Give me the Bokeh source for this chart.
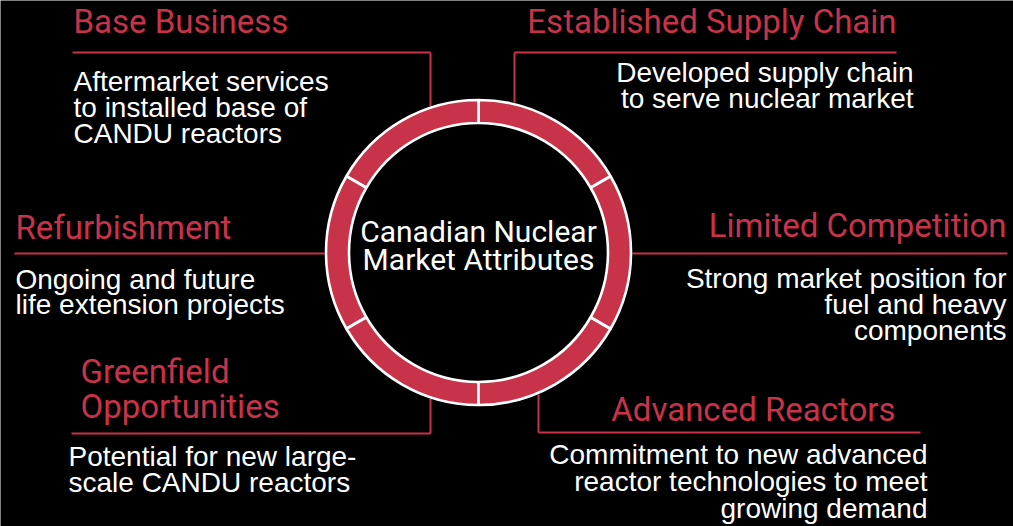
import numpy as np
from bokeh.plotting import figure
from bokeh.models import Range1d
from bokeh.core.properties import value
from bokeh.embed import file_html
from bokeh.resources import INLINE

# ---------------- data ----------------
center_title = ["Canadian Nuclear", "Market Attributes"]
headings = [
    ["Base Business"],
    ["Established Supply Chain"],
    ["Refurbishment"],
    ["Limited Competition"],
    ["Greenfield", "Opportunities"],
    ["Advanced Reactors"],
]
descriptions = [
    ["Aftermarket services", "to installed base of", "CANDU reactors"],
    ["Developed supply chain", "to serve nuclear market"],
    ["Ongoing and future", "life extension projects"],
    ["Strong market position for", "fuel and heavy", "components"],
    ["Potential for new large-", "scale CANDU reactors"],
    ["Commitment to new advanced", "reactor technologies to meet", "growing demand"],
]
ring_segments = 6

# ---------------- layout / style ----------------
W, H = 1013, 526
CX, CY = 478, 252
R_EDGE = 154
R_OUT, R_IN = 152.5, 129.5
RED = "#C9334A"
HEAD_FONT = value("Roboto")
BODY_FONT = value("Liberation Sans")
HEAD_PX, BODY_PX, CENTER_PX = 33, 28, 30
BASE_FIX = 0.37  # renderer baseline compensation (fraction of font size)

layout = [
    dict(align="left", hx=73, hy=33, hdy=35, rule_y=52, rx0=72, rx1=430, conn=430, bx=73, by=91, dy=26),
    dict(align="right", hx=896, hy=33, hdy=35, rule_y=52, rx0=514, rx1=896, conn=514, bx=913, by=82, dy=26),
    dict(align="left", hx=15, hy=239, hdy=35, rule_y=253, rx0=14, rx1=None, conn=None, bx=15, by=289, dy=25),
    dict(align="right", hx=1006, hy=237, hdy=35, rule_y=253, rx0=None, rx1=1007, conn=None, bx=1006, by=288, dy=26),
    dict(align="left", hx=80, hy=383, hdy=35, rule_y=433, rx0=71, rx1=430, conn=430, bx=68, by=466, dy=26),
    dict(align="right", hx=895, hy=421, hdy=35, rule_y=432, rx0=538, rx1=920, conn=538, bx=927, by=464, dy=27),
]

p = figure(width=W, height=H, output_backend="svg", toolbar_location=None,
           x_range=Range1d(0, W), y_range=Range1d(H, 0),
           min_border=0, outline_line_color=None,
           background_fill_color="black", border_fill_color="black")
p.axis.visible = False
p.grid.visible = False

# connector rules
for lay in layout:
    x0 = lay["rx0"] if lay["rx0"] is not None else CX + R_EDGE
    x1 = lay["rx1"] if lay["rx1"] is not None else CX - R_EDGE
    p.line([x0, x1], [lay["rule_y"], lay["rule_y"]], line_color=RED, line_width=2)
    if lay["conn"] is not None:
        dx = lay["conn"] - CX
        dyr = np.sqrt(R_EDGE ** 2 - dx ** 2)
        yend = CY - dyr if lay["rule_y"] < CY else CY + dyr
        p.line([lay["conn"], lay["conn"]], [lay["rule_y"], yend], line_color=RED, line_width=2)

# ring
step = 2 * np.pi / ring_segments
starts = [np.pi / 6 + k * step for k in range(ring_segments)]
ends = [s + step for s in starts]
p.annular_wedge(x=[CX] * ring_segments, y=[CY] * ring_segments,
                inner_radius=R_IN, outer_radius=R_OUT,
                start_angle=starts, end_angle=ends,
                fill_color=RED, line_color="white", line_width=2.6)


def baselines(first, spacing, n, px):
    return [first + spacing * i - BASE_FIX * px for i in range(n)]


# center title
p.text(x=[CX] * len(center_title), y=baselines(242, 28, len(center_title), CENTER_PX),
       text=center_title, text_align="center", text_baseline="alphabetic",
       text_font=HEAD_FONT, text_font_size=f"{CENTER_PX}px", text_color="white")

# headings and descriptions
for lay, head, desc in zip(layout, headings, descriptions):
    p.text(x=[lay["hx"]] * len(head), y=baselines(lay["hy"], lay["hdy"], len(head), HEAD_PX),
           text=head, text_align=lay["align"], text_baseline="alphabetic",
           text_font=HEAD_FONT, text_font_size=f"{HEAD_PX}px", text_color=RED)
    p.text(x=[lay["bx"]] * len(desc), y=baselines(lay["by"], lay["dy"], len(desc), BODY_PX),
           text=desc, text_align=lay["align"], text_baseline="alphabetic",
           text_font=BODY_FONT, text_font_size=f"{BODY_PX}px", text_color="white")

html = file_html(p, INLINE)
html = html.replace("<body>", '<body style="margin:0;background-color:#000000;">', 1)
open("out.html", "w").write(html)
